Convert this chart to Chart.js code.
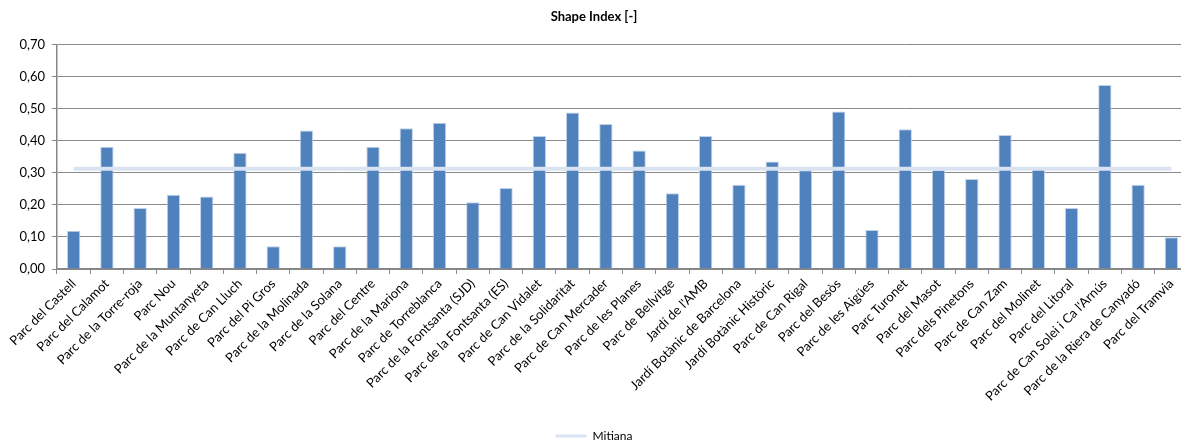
<!DOCTYPE html>
<html>
<head>
<meta charset="utf-8">
<script src="https://cdn.jsdelivr.net/npm/chart.js@4/dist/chart.umd.min.js"></script>
<style>
  html, body { margin: 0; padding: 0; background: #fff; overflow: hidden; }
  #wrap { width: 1198px; height: 441px; position: relative; }
</style>
</head>
<body>
<div id="wrap"><canvas id="shapeIndexChart"></canvas></div>
<script>
// Parks, in the order they appear on the axis
var parks = [
  'Parc del Castell', 'Parc del Calamot', 'Parc de la Torre-roja', 'Parc Nou',
  'Parc de la Muntanyeta', 'Parc de Can Lluch', 'Parc del Pi Gros', 'Parc de la Molinada',
  'Parc de la Solana', 'Parc del Centre', 'Parc de la Mariona', 'Parc de Torreblanca',
  'Parc de la Fontsanta (SJD)', 'Parc de la Fontsanta (ES)', 'Parc de Can Vidalet',
  'Parc de la Solidaritat', 'Parc de Can Mercader', 'Parc de les Planes', 'Parc de Bellvitge',
  "Jardí de l'AMB", 'Jardí Botànic de Barcelona', 'Jardí Botànic Històric', 'Parc de Can Rigal',
  'Parc del Besòs', 'Parc de les Aigües', 'Parc Turonet', 'Parc del Masot', 'Parc dels Pinetons',
  'Parc de Can Zam', 'Parc del Molinet', 'Parc del Litoral', "Parc de Can Solei i Ca l'Arnús",
  'Parc de la Riera de Canyadó', 'Parc del Tramvia'
];

// Shape index per park
var shapeIndex = [
  0.119, 0.381, 0.190, 0.232, 0.226, 0.363, 0.071, 0.432,
  0.071, 0.381, 0.439, 0.456, 0.208, 0.253, 0.415, 0.488,
  0.452, 0.370, 0.236, 0.415, 0.263, 0.335, 0.308, 0.491,
  0.122, 0.436, 0.309, 0.281, 0.418, 0.319, 0.190, 0.574,
  0.263, 0.099
];

// Average over all parks ("Mitiana")
var mitianaValue = 0.313;
var mitiana = parks.map(function () { return mitianaValue; });

// Y axis range
var yTicks = [0, 0.1, 0.2, 0.3, 0.4, 0.5, 0.6, 0.7];

var barColor = '#4f81bd';
var lineColor = '#d9e3f1';
var gridColor = '#8a8a8a';

Chart.defaults.font.family = 'Lato, "Open Sans", sans-serif';
Chart.defaults.color = '#000';

var ctx = document.getElementById('shapeIndexChart').getContext('2d');
var chart = new Chart(ctx, {
  type: 'bar',
  data: {
    labels: parks,
    datasets: [
      {
        type: 'line',
        label: 'Mitiana',
        data: mitiana,
        borderColor: lineColor,
        backgroundColor: lineColor,
        borderWidth: 4,
        pointRadius: 0,
        fill: false,
        order: 0
      },
      {
        label: 'Shape Index',
        data: shapeIndex,
        backgroundColor: barColor,
        borderColor: 'rgba(185, 205, 229, 0.9)',
        borderWidth: 1,
        borderSkipped: 'bottom',
        barPercentage: 0.4,
        categoryPercentage: 1,
        order: 1
      }
    ]
  },
  options: {
    responsive: true,
    maintainAspectRatio: false,
    animation: false,
    layout: {
      padding: { left: 0, right: 10, top: 0, bottom: -11 }
    },
    plugins: {
      title: {
        display: true,
        text: 'Shape Index [-]',
        font: { size: 13, weight: 'bold' },
        color: '#000',
        padding: { top: 9, bottom: 20 }
      },
      legend: {
        position: 'bottom',
        labels: {
          boxWidth: 31,
          boxHeight: 3,
          padding: 0,
          font: { size: 12 },
          color: '#000',
          filter: function (item) { return item.datasetIndex === 0; },
          generateLabels: function (chart) {
            var items = Chart.defaults.plugins.legend.labels.generateLabels(chart);
            items.forEach(function (item) {
              item.lineWidth = 0;
              item.fillStyle = lineColor;
            });
            return items;
          }
        }
      },
      tooltip: { enabled: false }
    },
    scales: {
      x: {
        afterFit: function (scale) { scale.height = 161; },
        grid: {
          offset: true,
          drawOnChartArea: false,
          drawTicks: true,
          tickLength: 5,
          tickColor: gridColor
        },
        border: { color: '#868686', width: 1.5 },
        ticks: {
          autoSkip: false,
          maxRotation: 45,
          minRotation: 45,
          padding: 2,
          font: { size: 13 }
        }
      },
      y: {
        min: yTicks[0],
        max: yTicks[yTicks.length - 1],
        afterFit: function (scale) { scale.width = 57; },
        afterBuildTicks: function (scale) {
          scale.ticks = yTicks.map(function (v) { return { value: v }; });
        },
        grid: {
          color: gridColor,
          lineWidth: 1,
          tickLength: 5,
          tickColor: gridColor
        },
        border: { color: '#868686', width: 1.5 },
        ticks: {
          padding: 7,
          font: { size: 13 },
          callback: function (value) {
            return value.toFixed(2).replace('.', ',');
          }
        }
      }
    }
  }
});
</script>
</body>
</html>
